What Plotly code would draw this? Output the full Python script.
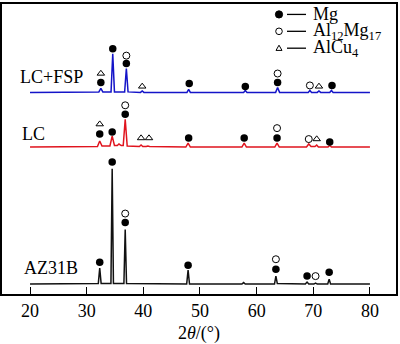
import plotly.graph_objects as go

# ---------------- data ----------------
# XRD patterns: intensity above each pattern's own baseline (a.u.)
az_x = [20, 31.0, 32.05, 32.3, 32.55, 34.28, 34.5, 34.72, 36.57, 36.8, 37.03, 47.65, 47.9, 48.15,
        57.4, 57.7, 58.0, 63.15, 63.4, 63.65, 68.6, 68.9, 69.2, 70.1, 70.4, 70.7, 72.55, 72.8, 73.05, 80]
az_y = [0, 0.5, 0.5, 16, 0.5, 0.5, 116, 0.5, 0.5, 55, 0.5, 0, 14, 0,
        0, 1.5, 0, 0, 8, 0.5, 0, 2, 0, 0, 1, 0, 0, 5, 0, 0]

lc_x = [20, 30.0, 31.0, 31.9, 32.3, 32.7, 34.1, 34.5, 34.9, 35.4, 35.7, 36.1, 36.45, 36.8, 37.15,
        39.3, 39.6, 39.9, 40.5, 40.8, 41.1, 47.5, 47.9, 48.3, 57.4, 57.8, 58.2, 63.2, 63.6, 64.0,
        68.8, 69.2, 69.6, 70.3, 70.6, 70.9, 72.6, 72.9, 73.2, 80]
lc_y = [0, 0.5, 0, 0.5, 6, 1, 1, 11, 1.5, 1.5, 3, 1.5, 1.5, 28, 1,
        0.5, 2, 0.5, 0.5, 1, 0.5, 0, 4, 0, 0, 4, 0, 0, 4, 0,
        0, 3, 0.5, 0.5, 2, 0, 0, 1.5, 0, 0]

fsp_x = [20, 31.0, 32.15, 32.5, 32.85, 34.3, 34.6, 34.9, 36.7, 37.0, 37.3, 39.5, 39.8, 40.1,
         47.7, 48.0, 48.3, 57.7, 58.0, 58.3, 63.35, 63.7, 64.05, 69.1, 69.4, 69.7, 70.7, 71.0, 71.3,
         72.9, 73.2, 73.5, 80]
fsp_y = [0, 0.5, 0.5, 4, 0.5, 0.5, 39, 0.5, 0.5, 24, 0.5, 0, 1.5, 0,
         0, 3, 0, 0, 2, 0, 0, 5, 0, 0, 2, 0, 0, 1.5, 0,
         0, 2, 0, 0]

# vertical offsets of the stacked patterns
offsets = {"AZ31B": 10, "LC": 148, "LC+FSP": 203}

# phase markers (2θ, plotted height)
mg_x = [32.3, 34.5, 36.8, 47.9, 63.4, 68.9, 72.8,
        32.3, 34.5, 36.8, 48.0, 57.8, 63.6, 72.9,
        32.5, 34.6, 37.0, 48.1, 58.0, 63.7, 73.3]
mg_y = [32, 133, 72, 29, 25, 18, 22,
        161, 163, 181, 157, 157, 157, 153,
        213, 247, 232, 212, 209, 213, 210]
al_x = [36.8, 63.4, 70.4,
        36.8, 63.6, 69.2,
        37.0, 63.7, 69.4]
al_y = [81, 35, 18,
        190, 167, 156,
        240, 222, 210]
cu_x = [32.3, 39.6, 41.0, 70.6,
        32.5, 39.8, 71.0]
cu_y = [171, 157, 157, 156,
        222, 209, 209]

x_ticks = [20, 30, 40, 50, 60, 70, 80]

FONT = "Liberation Serif"

fig = go.Figure()

for name, xs, ys, col in [("AZ31B", az_x, az_y, "#111111"),
                          ("LC", lc_x, lc_y, "#e0141e"),
                          ("LC+FSP", fsp_x, fsp_y, "#1414c8")]:
    off = offsets[name]
    fig.add_trace(go.Scatter(x=xs, y=[v + off for v in ys], mode="lines",
                             line=dict(color=col, width=1.5), showlegend=False,
                             hoverinfo="skip"))

fig.add_trace(go.Scatter(x=mg_x, y=mg_y, mode="markers", showlegend=False,
                         marker=dict(symbol="circle", size=7.5, color="black")))
fig.add_trace(go.Scatter(x=al_x, y=al_y, mode="markers", showlegend=False,
                         marker=dict(symbol="circle-open", size=7, color="black",
                                     line=dict(width=1))))
fig.add_trace(go.Scatter(x=cu_x, y=cu_y, mode="markers", showlegend=False,
                         marker=dict(symbol="triangle-up-open", size=6.5, color="black",
                                     line=dict(width=1))))

# series labels
for txt, xx, yy in [("LC+FSP", 17.9, 218), ("LC", 18.2, 161), ("AZ31B", 18.6, 26)]:
    fig.add_annotation(x=xx, y=yy, text=txt, showarrow=False, xanchor="left",
                       yanchor="middle", font=dict(family=FONT, size=18, color="black"))

# legend (drawn in paper coordinates)
W, H = 394.0, 292.0
def px(xp):
    return (xp - 2) / W
def py(yp):
    return (294 - yp) / H

rows = [(12.5, "Mg"), (29.5, "Al<sub>12</sub>Mg<sub>17</sub>"), (46.5, "AlCu<sub>4</sub>")]
for i, (yy, label) in enumerate(rows):
    if i == 0:
        fig.add_shape(type="circle", xref="paper", yref="paper", xsizemode="pixel",
                      ysizemode="pixel", xanchor=px(279), yanchor=py(yy),
                      x0=-3.6, x1=3.6, y0=-3.6, y1=3.6, fillcolor="black",
                      line=dict(color="black", width=1))
    elif i == 1:
        fig.add_shape(type="circle", xref="paper", yref="paper", xsizemode="pixel",
                      ysizemode="pixel", xanchor=px(279), yanchor=py(yy),
                      x0=-3.3, x1=3.3, y0=-3.3, y1=3.3, fillcolor="white",
                      line=dict(color="black", width=1))
    else:
        fig.add_shape(type="path", xref="paper", yref="paper", xsizemode="pixel",
                      ysizemode="pixel", xanchor=px(279), yanchor=py(yy),
                      path="M -3,-2.2 L 3,-2.2 L 0,3 Z", fillcolor="white",
                      line=dict(color="black", width=1))
    fig.add_shape(type="line", xref="paper", yref="paper", x0=px(287), x1=px(306),
                  y0=py(yy), y1=py(yy), line=dict(color="black", width=1.3))
    fig.add_annotation(xref="paper", yref="paper", x=px(311), y=py(yy), text=label,
                       showarrow=False, xanchor="left", yanchor="middle",
                       font=dict(family=FONT, size=18, color="black"))

fig.update_layout(
    width=400, height=344,
    margin=dict(l=2, r=4, t=2, b=50),
    paper_bgcolor="white", plot_bgcolor="white",
    font=dict(family=FONT, color="black"),
    showlegend=False,
)
fig.update_xaxes(range=[15.05, 84.6], tickvals=x_ticks, ticktext=[str(v) for v in x_ticks],
                 ticks="inside", ticklen=7, tickwidth=1.2, tickcolor="black",
                 showline=True, mirror=True, linecolor="black", linewidth=1.5,
                 showgrid=False, zeroline=False,
                 tickfont=dict(family=FONT, size=18, color="black"),
                 title=dict(text="2<i>θ</i>/(°)", font=dict(family=FONT, size=18, color="black"),
                            standoff=6))
fig.update_yaxes(range=[0, 292], showticklabels=False, ticks="", showgrid=False,
                 zeroline=False, showline=True, mirror=True, linecolor="black", linewidth=1.5)

fig.write_html("out.html")
